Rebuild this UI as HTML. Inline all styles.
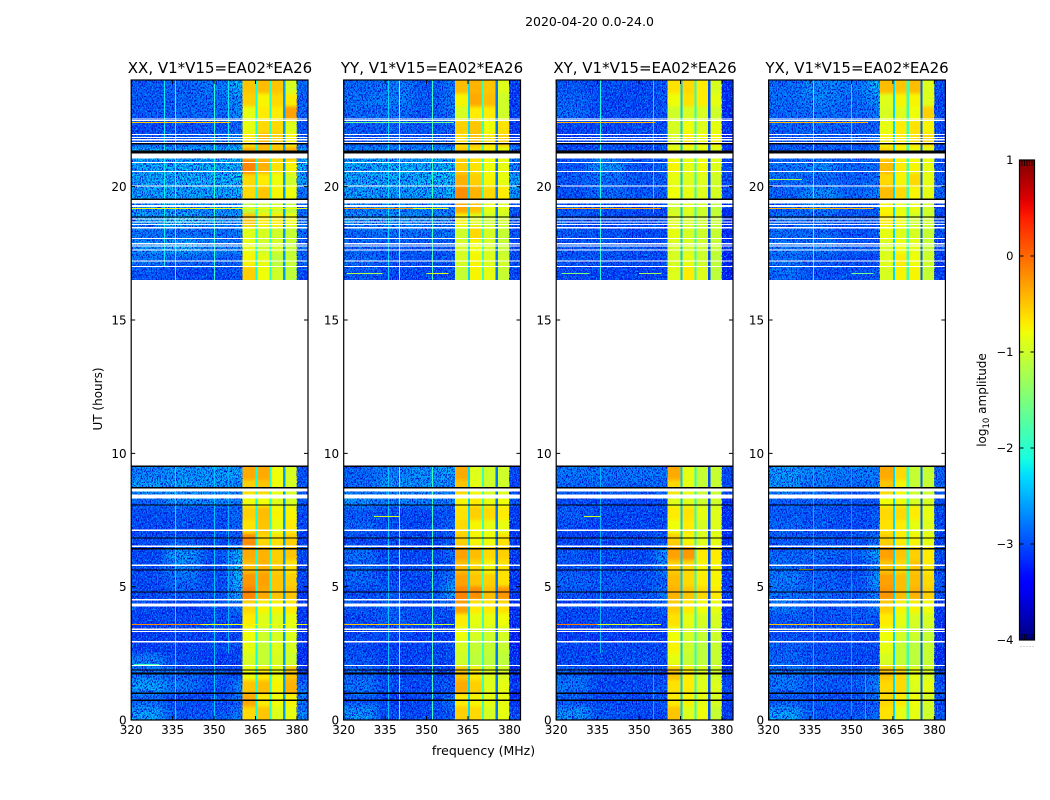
<!DOCTYPE html>
<html lang="en">
<head>
<meta charset="utf-8">
<title>2020-04-20 0.0-24.0</title>
<style>
html,body{margin:0;padding:0;background:#fff;width:1050px;height:800px;overflow:hidden}
svg{display:block}
text{font-family:"DejaVu Sans","Liberation Sans",sans-serif;fill:#000}
</style>
</head>
<body>
<svg id="chart" xmlns="http://www.w3.org/2000/svg" width="1050" height="800" viewBox="0 0 1050 800">
<defs>
<linearGradient id="jet-gradient" x1="0" y1="1" x2="0" y2="0"></linearGradient>
<filter id="speckle-dark" x="0" y="0" width="100%" height="100%" color-interpolation-filters="sRGB">
<feTurbulence type="fractalNoise" baseFrequency="0.8 0.55" numOctaves="2" seed="4"/>
<feColorMatrix type="matrix" values="0 0 0 0 0  0 0 0 0 0.06  0 0 0 0 0.82  6 0 0 0 -2.7"/>
</filter>
<filter id="speckle-light" x="0" y="0" width="100%" height="100%" color-interpolation-filters="sRGB">
<feTurbulence type="fractalNoise" baseFrequency="0.8 0.55" numOctaves="2" seed="11"/>
<feColorMatrix type="matrix" values="0 0 0 0 0  0 0 0 0 0.6  0 0 0 0 1  0 6 0 0 -3.2"/>
</filter>
<filter id="smooth-low" x="0" y="0" width="100%" height="100%" color-interpolation-filters="sRGB">
<feGaussianBlur in="SourceGraphic" stdDeviation="5 3" result="soft"/>
<feMerge><feMergeNode in="SourceGraphic"/><feMergeNode in="soft"/></feMerge>
</filter>
<filter id="smooth-band" x="0" y="0" width="100%" height="100%" color-interpolation-filters="sRGB">
<feGaussianBlur in="SourceGraphic" stdDeviation="0 1.5" result="soft"/>
<feMerge><feMergeNode in="SourceGraphic"/><feMergeNode in="soft"/></feMerge>
</filter>
</defs>
<text x="589.5" y="26" font-size="12.5" text-anchor="middle">2020-04-20 0.0-24.0</text>
<text x="220" y="73" font-size="15" text-anchor="middle">XX, V1*V15=EA02*EA26</text>
<text x="432" y="73" font-size="15" text-anchor="middle">YY, V1*V15=EA02*EA26</text>
<text x="645" y="73" font-size="15" text-anchor="middle">XY, V1*V15=EA02*EA26</text>
<text x="857" y="73" font-size="15" text-anchor="middle">YX, V1*V15=EA02*EA26</text>
<text x="483.5" y="755" font-size="12.5" text-anchor="middle">frequency (MHz)</text>
<text transform="translate(102,399) rotate(-90)" font-size="12" text-anchor="middle">UT (hours)</text>
<text transform="translate(986,400) rotate(-90)" font-size="12" text-anchor="middle">log<tspan font-size="8.5" dy="3">10</tspan><tspan dy="-3"> amplitude</tspan></text>
<g id="panels"></g>
<g id="colorbar"></g>
</svg>
<script>
// Categories: each row starts at this UT hour and lasts half an hour.
const rowStarts = [0,0.5,1,1.5,2,2.5,3,3.5,4,4.5,5,5.5,6,6.5,7,7.5,8,8.5,9,16.5,17,17.5,18,18.5,19,19.5,20,20.5,21,21.5,22,22.5,23,23.5];
const rowLength = 0.5;
// Frequency bins in MHz (lower, upper).
const freqBins = [[320,332],[332,345],[345,356],[356,360.2],[360.2,365],[365.8,370],[370.8,375],[375.8,380],[380,384]];
const notchBins = [[365,365.8],[370,370.8],[375,375.8]];

// log10 amplitude: one row per entry of rowStarts, one column per entry of freqBins.
const ampXX = [
[-2.4,-2.9,-2.9,-2.7,-0.6,-0.5,-0.9,-0.85,-2.6],
[-2.8,-3,-3,-2.8,-0.35,-0.7,-0.8,-0.75,-2.7],
[-2.4,-2.7,-3,-2.6,-0.5,-0.45,-0.75,-0.4,-2.7],
[-2.7,-2.8,-2.9,-3,-0.8,-0.7,-0.85,-0.5,-3],
[-2.6,-3,-3.1,-3,-0.95,-1.05,-0.95,-1,-3.2],
[-3.1,-3.05,-3,-3,-0.85,-1.05,-0.9,-0.95,-3.2],
[-3.1,-3.05,-3.05,-3,-0.8,-1,-0.95,-0.9,-3.1],
[-3.05,-3,-3,-2.95,-0.7,-0.9,-0.9,-0.85,-3.1],
[-3,-3.1,-3,-2.7,-0.6,-0.75,-0.75,-0.7,-3.1],
[-3,-2.9,-2.95,-2.3,-0.15,-0.35,-0.5,-0.5,-3.1],
[-3,-2.75,-3,-2.3,-0.25,-0.3,-0.5,-0.55,-3],
[-3,-2.6,-3,-2.2,-0.45,-0.4,-0.55,-0.65,-3],
[-3,-2.45,-2.95,-2.3,-0.35,-0.4,-0.55,-0.5,-3],
[-3,-2.9,-3,-2.9,-0.2,-0.6,-0.65,-0.55,-3.1],
[-3,-2.95,-3,-2.8,-0.65,-0.5,-0.85,-0.7,-3],
[-2.95,-2.9,-3,-2.8,-0.55,-0.45,-0.75,-0.75,-3],
[-2.8,-2.5,-2.55,-2.6,-0.8,-0.8,-0.9,-0.95,-2.9],
[-2.4,-2.4,-2.5,-2.6,-0.55,-0.5,-0.8,-0.95,-2.9],
[-2.6,-2.5,-2.45,-2.4,-0.35,-0.35,-0.8,-0.95,-2.9],
[-2.9,-3,-3,-2.9,-0.55,-0.8,-1,-1.1,-3],
[-2.7,-2.8,-2.8,-2.8,-0.75,-0.85,-1.1,-1.05,-2.8],
[-2.5,-2.3,-2.6,-2.6,-0.85,-1,-0.95,-1.05,-2.8],
[-2.7,-2.7,-2.75,-2.7,-0.9,-0.95,-1,-1.05,-2.8],
[-2.45,-2.2,-2.5,-2.5,-0.5,-0.7,-0.7,-0.8,-2.7],
[-2.5,-2.5,-2.5,-2.5,-1.1,-1,-1,-1.1,-2.8],
[-2.4,-2.4,-2.4,-2.3,-0.6,-0.5,-0.75,-0.8,-2.7],
[-2.35,-2.3,-2.3,-2.2,-0.6,-0.7,-0.8,-1,-2.4],
[-2.35,-2.3,-2.3,-2.2,-0.15,-0.4,-0.65,-0.75,-2.3],
[-2.35,-2.35,-2.35,-2.25,-0.4,-0.45,-0.5,-0.4,-2.4],
[-2.9,-2.85,-2.8,-2.6,-0.7,-0.45,-0.55,-0.75,-2.8],
[-3,-2.95,-2.9,-2.75,-0.85,-0.6,-0.6,-0.9,-2.9],
[-2.9,-2.8,-2.8,-2.55,-0.85,-0.7,-0.7,-0.3,-2.8],
[-2.9,-2.8,-2.75,-2.5,-0.55,-0.75,-0.6,-0.7,-2.8],
[-2.85,-2.8,-2.7,-2.3,-0.5,-0.45,-0.5,-0.95,-2.8]
];
const ampYY = [
[-2.5,-3,-3,-2.9,-0.55,-0.6,-0.95,-0.85,-3],
[-2.9,-3.1,-3,-2.7,-0.7,-0.75,-0.85,-0.85,-3.2],
[-2.7,-3,-3,-2.9,-0.35,-0.55,-0.9,-0.85,-3.1],
[-2.8,-3,-3,-3,-0.5,-0.7,-0.9,-0.95,-3.2],
[-2.9,-3.05,-3,-3,-1,-1.1,-1.1,-1.1,-3.2],
[-3,-3.05,-3.05,-3,-0.95,-1.05,-1.05,-1.05,-3.3],
[-3,-3,-3.1,-3.1,-0.8,-0.95,-1,-0.95,-3.3],
[-3,-2.85,-3,-3,-0.7,-0.85,-0.85,-0.8,-3.2],
[-2.9,-2.9,-3,-2.8,-0.3,-0.7,-0.7,-0.65,-3.2],
[-3,-2.9,-2.95,-2.4,-0.15,-0.2,-0.45,-0.25,-3.1],
[-2.8,-3,-3,-2.6,-0.3,-0.5,-0.55,-0.65,-3.2],
[-2.8,-3,-3,-2.9,-0.45,-0.6,-0.75,-0.65,-3.1],
[-2.75,-3,-3,-2.8,-0.3,-0.45,-0.6,-0.55,-3.1],
[-3,-3,-3.05,-2.9,-0.55,-0.75,-0.8,-0.65,-3.1],
[-2.8,-3,-3,-2.8,-0.6,-0.75,-0.85,-0.85,-3.1],
[-2.9,-3,-3,-2.9,-0.65,-0.55,-0.6,-0.7,-3.1],
[-2.5,-2.6,-2.6,-2.6,-0.75,-0.7,-0.85,-0.8,-2.9],
[-2.8,-2.5,-2.5,-2.6,-0.5,-0.85,-1,-1,-3],
[-2.8,-2.6,-2.5,-2.4,-0.35,-0.9,-1,-1,-3],
[-2.9,-3,-3,-2.9,-1.05,-0.75,-0.85,-1.05,-3],
[-2.75,-2.9,-2.9,-2.9,-0.95,-0.75,-0.9,-1,-3],
[-2.8,-2.9,-2.9,-2.9,-0.95,-0.8,-0.95,-1.05,-3],
[-2.8,-2.7,-2.7,-2.7,-1,-0.6,-0.95,-1.05,-2.9],
[-2.5,-2.5,-2.6,-2.6,-0.75,-0.9,-1,-1,-2.9],
[-2.6,-2.6,-2.6,-2.6,-0.35,-0.5,-0.85,-0.9,-2.9],
[-2.4,-2.45,-2.4,-2.3,-0.2,-0.4,-0.6,-0.7,-2.5],
[-2.35,-2.3,-2.3,-2.2,-0.4,-0.55,-0.75,-0.85,-2.4],
[-2.35,-2.3,-2.3,-2.25,-0.55,-0.65,-0.8,-0.85,-2.6],
[-2.5,-2.5,-2.5,-2.4,-0.55,-0.65,-0.75,-0.85,-2.6],
[-2.95,-2.9,-2.9,-2.8,-0.65,-0.5,-0.65,-0.55,-3.1],
[-2.9,-2.85,-2.9,-2.8,-0.55,-0.5,-0.8,-0.65,-3.1],
[-2.8,-2.75,-2.9,-2.7,-0.95,-0.7,-0.7,-1,-3.1],
[-2.7,-2.65,-2.9,-2.7,-0.75,-0.35,-0.45,-1,-3.1],
[-2.8,-2.65,-2.9,-2.7,-0.45,-0.4,-0.5,-0.9,-3.1]
];
const ampXY = [
[-2.5,-2.9,-3,-3,-0.5,-0.9,-0.8,-1.05,-3.1],
[-2.9,-3,-3,-2.9,-0.7,-0.75,-0.85,-0.95,-3.1],
[-2.7,-3,-3,-2.9,-0.65,-0.7,-0.9,-0.9,-3],
[-2.8,-3,-3,-3,-0.5,-0.7,-0.9,-1,-3.1],
[-3,-3,-2.95,-3,-0.85,-1.05,-1.1,-1.05,-3.3],
[-3,-3,-3,-3,-0.75,-1,-1.1,-1.05,-3.3],
[-3.1,-3.1,-3.1,-3.1,-0.8,-0.95,-1.05,-1,-3.3],
[-3,-3,-3,-3,-0.65,-0.85,-0.95,-0.95,-3.2],
[-3,-3,-3,-2.9,-0.55,-0.7,-0.8,-0.85,-3.2],
[-2.9,-2.95,-2.95,-2.7,-0.4,-0.5,-0.6,-0.7,-3.1],
[-2.8,-2.9,-2.95,-2.8,-0.45,-0.6,-0.7,-0.75,-3.1],
[-2.9,-3,-3,-2.6,-0.55,-0.6,-0.75,-0.75,-3.1],
[-2.9,-3,-3,-2.5,-0.3,-0.25,-0.7,-0.7,-3.1],
[-3.05,-3,-3,-2.9,-0.55,-0.75,-0.9,-0.85,-3.2],
[-3,-3.05,-3,-3,-0.8,-0.7,-0.95,-0.9,-3.2],
[-2.85,-3,-3,-3,-0.7,-0.65,-0.85,-0.9,-3.2],
[-3,-3,-3,-3,-0.9,-0.9,-1,-1,-3.2],
[-2.8,-2.8,-2.8,-2.8,-0.6,-0.85,-1.05,-1.05,-3],
[-2.7,-2.7,-2.7,-2.7,-0.35,-0.85,-1.05,-1.05,-3],
[-3,-3.05,-3.05,-3,-0.9,-0.7,-0.9,-1.1,-3.3],
[-2.9,-2.95,-3,-3,-0.95,-0.85,-1,-1.1,-3.3],
[-2.9,-2.85,-2.9,-2.95,-0.95,-0.95,-1,-1.05,-3.2],
[-2.9,-2.95,-3,-3,-0.85,-0.95,-1,-1.05,-3.2],
[-2.9,-3,-3,-3,-0.9,-0.95,-1,-1.05,-3.2],
[-2.9,-2.95,-2.95,-3,-1,-0.9,-1,-1.1,-3.2],
[-2.95,-2.75,-2.9,-2.85,-0.8,-0.85,-0.9,-0.95,-3],
[-2.9,-2.75,-2.9,-2.85,-0.85,-0.9,-0.9,-1,-3],
[-2.9,-2.5,-2.9,-2.85,-0.75,-0.85,-0.8,-0.9,-3],
[-3,-2.9,-3,-2.95,-0.85,-0.85,-0.85,-0.9,-3.1],
[-3.05,-3,-3,-3,-0.95,-0.7,-0.8,-0.75,-3.2],
[-3,-3,-3,-3,-0.95,-0.8,-0.9,-0.85,-3.2],
[-2.75,-3,-3,-2.9,-1,-0.95,-0.95,-1,-3.2],
[-2.8,-3,-3,-2.9,-0.8,-0.65,-0.7,-0.85,-3.2],
[-2.9,-3,-3,-2.9,-0.65,-0.6,-0.7,-0.95,-3.2]
];
const ampYX = [
[-2.4,-2.9,-2.9,-2.8,-0.65,-0.85,-0.85,-1,-2.9],
[-2.9,-2.9,-3,-2.8,-0.6,-0.7,-0.8,-0.95,-3],
[-2.7,-2.9,-2.9,-2.6,-0.6,-0.6,-0.9,-0.85,-2.9],
[-2.7,-2.8,-2.9,-2.7,-0.5,-0.6,-0.85,-0.95,-3],
[-2.8,-2.95,-3,-3,-0.95,-1.05,-1.1,-1.05,-3.2],
[-2.85,-2.95,-3,-3,-0.85,-1.05,-1.1,-1.05,-3.2],
[-2.95,-3,-3,-3,-0.8,-0.95,-1,-1.05,-3.2],
[-2.9,-2.95,-2.9,-2.95,-0.7,-0.85,-0.95,-0.95,-3.1],
[-2.7,-2.9,-2.9,-2.7,-0.55,-0.75,-0.75,-0.8,-3.1],
[-2.7,-2.8,-2.9,-2.6,-0.25,-0.45,-0.4,-0.55,-2.9],
[-2.65,-2.85,-2.95,-2.5,-0.3,-0.45,-0.45,-0.6,-2.9],
[-2.75,-2.9,-3,-2.6,-0.5,-0.6,-0.5,-0.7,-3],
[-2.8,-2.75,-2.85,-2.4,-0.3,-0.5,-0.55,-0.7,-3],
[-2.9,-2.9,-2.95,-2.7,-0.55,-0.7,-0.75,-0.85,-3.1],
[-2.8,-2.9,-3,-2.9,-0.65,-0.7,-0.85,-0.9,-3],
[-2.85,-2.9,-3,-2.9,-0.6,-0.6,-0.7,-0.85,-3],
[-2.85,-2.8,-2.9,-2.9,-0.8,-0.8,-0.95,-0.95,-3],
[-2.5,-2.7,-2.8,-2.7,-0.5,-0.75,-1.05,-1.05,-2.8],
[-2.45,-2.6,-2.65,-2.65,-0.35,-0.6,-1.05,-1.05,-2.8],
[-2.75,-2.95,-2.95,-2.9,-0.95,-0.75,-0.75,-1.05,-3.1],
[-2.75,-2.9,-3,-2.95,-0.9,-0.7,-0.8,-1,-3.1],
[-2.7,-2.65,-2.85,-2.9,-0.95,-0.8,-0.85,-1.05,-3],
[-2.75,-2.75,-2.95,-2.9,-0.85,-0.9,-0.95,-1.05,-3],
[-2.75,-2.8,-2.9,-2.9,-0.7,-0.8,-1,-1,-3],
[-2.85,-2.6,-2.85,-2.85,-0.75,-0.85,-0.85,-1,-3],
[-2.8,-2.55,-2.8,-2.6,-0.45,-0.6,-0.75,-0.85,-2.8],
[-2.75,-2.8,-2.85,-2.75,-0.6,-0.75,-0.6,-0.85,-2.9],
[-2.7,-2.55,-2.8,-2.7,-0.45,-0.7,-0.75,-0.85,-2.9],
[-2.85,-2.85,-2.9,-2.8,-0.6,-0.75,-0.8,-0.85,-3],
[-2.9,-2.9,-2.9,-2.8,-0.75,-0.7,-0.65,-0.6,-3],
[-2.8,-2.8,-2.85,-2.8,-0.85,-0.7,-0.65,-0.75,-3],
[-2.8,-2.75,-2.8,-2.7,-0.95,-0.9,-0.8,-0.55,-3],
[-2.75,-2.6,-2.75,-2.5,-0.9,-0.75,-0.75,-0.9,-3],
[-2.75,-2.55,-2.7,-2.3,-0.45,-0.5,-0.45,-0.9,-3]
];
// Notch channel amplitudes (one per notchBins entry), by polarisation.
const notchXX = [-2.1,-2.0,-2.6];
const notchYY = [-2.3,-1.9,-2.8];
const notchXY = [-2.4,-2.0,-3.0];
const notchYX = [-2.3,-1.9,-2.9];
// Narrow-band interference: frequency (MHz), from hour, to hour, log10 amplitude.
const channelLinesXX = [[332,17,24,-2.2],[336,16.5,24,-2.1],[350,16.5,24,-2.0],[355,21.5,24,-2.2],[336,0,9.5,-2.3],[350,0,9.5,-2.4],[355,2.5,9.5,-2.5]];
const channelLinesYY = [[340,0,9.5,-0.55],[340,16.5,24,-0.6],[352,0,9.5,-1.9],[352,16.5,24,-1.9],[336,0,9.5,-2.4],[336,16.5,24,-2.3]];
const channelLinesXY = [[336,16.5,24,-2.1],[355,19,24,-2.3],[336,2.5,9.5,-2.5],[355,0,2,-2.5]];
const channelLinesYX = [[336,16.5,24,-2.1],[350,21,24,-2.3],[336,0,9.5,-2.5],[350,0,9.5,-2.6],[355,0,2,-2.5]];
// Horizontal interference: hour, from MHz, to MHz, log10 amplitude.
const timeLinesXX = [[22.42,320,356,-0.5],[19.18,320,384,-0.8],[3.58,320,345,-0.2],[3.58,345,384,-0.8],[2.1,321,330,-1.9]];
const timeLinesYY = [[22.42,320,360,-1.6],[19.18,320,345,-0.3],[19.18,345,358,-0.8],[3.58,320,345,-0.5],[3.58,345,360,-1],[16.75,321,334,-1.2],[16.75,350,358,-0.9],[7.62,331,340,-1.0]];
const timeLinesXY = [[22.42,320,356,-0.4],[19.18,320,358,-0.3],[3.58,320,335,-0.1],[3.58,335,358,-0.9],[16.75,322,332,-1.5],[16.75,350,358,-1.3],[7.62,330,336,-1.0]];
const timeLinesYX = [[22.42,320,356,-0.4],[19.18,320,358,-0.4],[3.58,320,358,-0.5],[20.26,320,332,-1.2],[16.75,350,358,-1.6],[5.65,331,336,-0.7]];
// Flagged (blank) and dropped (black) time ranges in hours.
const flaggedRanges = [[2.02,2.06],[2.9,2.96],[3.3,3.34],[3.38,3.44],[4.26,4.36],[4.48,4.54],[5.77,5.83],[6.48,6.54],[7.08,7.14],[8.3,8.46],[8.56,8.68],[16.98,17.02],[17.2,17.24],[17.6,17.64],[17.76,17.8],[17.84,17.88],[18.04,18.08],[18.44,18.48],[18.56,18.6],[18.66,18.7],[18.76,18.8],[19.24,19.32],[19.36,19.5],[20.01,20.05],[20.55,20.59],[20.88,20.92],[21.05,21.24],[21.64,21.68],[21.74,21.78],[21.83,21.87],[21.93,21.97],[22.46,22.5],[22.52,22.56]];
const droppedRanges = [[0.72,0.77],[0.97,1.04],[1.7,1.78],[1.86,1.9],[4.78,4.82],[5.6,5.64],[6.4,6.45],[6.8,6.85],[8.04,8.08],[8.68,8.74],[9.49,9.55],[18.85,18.89],[19.5,19.55],[21.24,21.36],[21.58,21.63]];
// Axis tick values and labels.
const xTickValues = [320,335,350,365,380];
const xTickLabels = ['320','335','350','365','380'];
const yTickValues = [0,5,10,15,20];
const yTickLabels = ['0','5','10','15','20'];
const colorbarTicks = [1,0,-1,-2,-3,-4];
const colorbarLabels = ['1','0','\u22121','\u22122','\u22123','\u22124'];
const polarisations = ['xx','yy','xy','yx'];

const SVG_NS = 'http://www.w3.org/2000/svg';
const AMP_MIN = -4, AMP_MAX = 1;
const FREQ_MIN = 320, FREQ_MAX = 384, HOUR_MIN = 0, HOUR_MAX = 24;
const PLOT_TOP = 80, PLOT_BOTTOM = 720, PLOT_WIDTH = 176.8;
const panelLefts = [131.2, 343.7, 556.2, 768.6];
const panelAmps = [ampXX, ampYY, ampXY, ampYX];
const panelNotches = [notchXX, notchYY, notchXY, notchYX];
const panelChannelLines = [channelLinesXX, channelLinesYY, channelLinesXY, channelLinesYX];
const panelTimeLines = [timeLinesXX, timeLinesYY, timeLinesXY, timeLinesYX];
const dataSpans = [[0, 9.5], [16.5, 24]];
const BAND_START = 360.2, BAND_END = 380;

function make(tag, attrs, parent) {
  const el = document.createElementNS(SVG_NS, tag);
  for (const k in attrs) el.setAttribute(k, attrs[k]);
  parent.appendChild(el);
  return el;
}
function clamp01(v) { return Math.max(0, Math.min(1, v)); }
function jet(v) {
  const t = clamp01((v - AMP_MIN) / (AMP_MAX - AMP_MIN));
  const r = t < 0.35 ? 0 : t < 0.66 ? (t - 0.35) / 0.31 : t < 0.89 ? 1 : 1 - (t - 0.89) / 0.11 * 0.5;
  const g = t < 0.125 ? 0 : t < 0.375 ? (t - 0.125) / 0.25 : t < 0.64 ? 1 : t < 0.91 ? 1 - (t - 0.64) / 0.27 : 0;
  const b = t < 0.11 ? 0.5 + t / 0.11 * 0.5 : t < 0.34 ? 1 : t < 0.65 ? 1 - (t - 0.34) / 0.31 : 0;
  return 'rgb(' + Math.round(r * 255) + ',' + Math.round(g * 255) + ',' + Math.round(b * 255) + ')';
}
function xScale(left, mhz) { return left + (mhz - FREQ_MIN) / (FREQ_MAX - FREQ_MIN) * PLOT_WIDTH; }
function yScale(hour) { return PLOT_BOTTOM - (hour - HOUR_MIN) / (HOUR_MAX - HOUR_MIN) * (PLOT_BOTTOM - PLOT_TOP); }

function cellRect(group, left, f0, f1, h0, h1, fill) {
  const x0 = xScale(left, f0), x1 = xScale(left, f1);
  const y0 = yScale(h1), y1 = yScale(h0);
  return make('rect', { x: x0, y: y0, width: x1 - x0, height: y1 - y0, fill: fill, 'shape-rendering': 'crispEdges' }, group);
}

const chartDefs = document.querySelector('#chart defs');
const panelsRoot = document.getElementById('panels');
polarisations.forEach(function (pol, p) {
  const left = panelLefts[p];
  const amps = panelAmps[p];
  const panel = make('g', {}, panelsRoot);
  
  

  // Clip the smoothed heatmap to the observed time spans and plot frame.
  const clip = make('clipPath', { id: 'clip-' + pol }, chartDefs);
  dataSpans.forEach(function (span) {
    cellRect(clip, left, FREQ_MIN, FREQ_MAX, span[0], span[1], '#000');
  });
  const heat = make('g', { 'clip-path': 'url(#clip-' + pol + ')' }, panel);
  
  
  const lowLayer = make('g', { filter: 'url(#smooth-low)' }, heat);
  
  
  const bandLayer = make('g', { filter: 'url(#smooth-band)' }, heat);
  
  

  // Heatmap cells
  rowStarts.forEach(function (h, r) {
    freqBins.forEach(function (bin, c) {
      const target = (bin[0] >= BAND_START && bin[1] <= BAND_END) ? bandLayer : lowLayer;
      const cell = cellRect(target, left, bin[0], bin[1], h, h + rowLength, jet(amps[r][c]));
      
      
    });
    notchBins.forEach(function (bin, c) {
      const notch = cellRect(bandLayer, left, bin[0], bin[1], h, h + rowLength, jet(panelNotches[p][c]));
      
      
    });
  });

  // Speckle texture on the faint part of the band
  dataSpans.forEach(function (span) {
    [[FREQ_MIN, BAND_START], [BAND_END, FREQ_MAX]].forEach(function (fr) {
      ['speckle-dark', 'speckle-light'].forEach(function (filterId) {
        const tex = cellRect(panel, left, fr[0], fr[1], span[0], span[1], '#000');
        tex.setAttribute('filter', 'url(#' + filterId + ')');
        
        
      });
    });
  });

  panelChannelLines[p].forEach(function (l) {
    const x = xScale(left, l[0]);
    const mark = make('rect', { x: Math.round(x), y: yScale(l[2]), width: 1, height: yScale(l[1]) - yScale(l[2]), fill: jet(l[3]), 'shape-rendering': 'crispEdges' }, panel);
    
    
  });
  panelTimeLines[p].forEach(function (l) {
    const mark = make('rect', { x: xScale(left, l[1]), y: Math.floor(yScale(l[0])), width: xScale(left, l[2]) - xScale(left, l[1]), height: 1, fill: jet(l[3]), 'shape-rendering': 'crispEdges' }, panel);
    
    
  });

  // Flagged and dropped time ranges
  flaggedRanges.forEach(function (g) {
    const gap = cellRect(panel, left, FREQ_MIN, FREQ_MAX, g[0], g[1], '#fff');
    
    
  });
  droppedRanges.forEach(function (g) {
    const gap = cellRect(panel, left, FREQ_MIN, FREQ_MAX, g[0], g[1], '#000');
    
    
  });

  // Frame
  const frame = make('rect', { x: left, y: PLOT_TOP, width: PLOT_WIDTH, height: PLOT_BOTTOM - PLOT_TOP, fill: 'none', stroke: '#000', 'stroke-width': 1.2 }, panel);
  
  

  // X ticks and labels
  xTickValues.forEach(function (v, i) {
    const x = xScale(left, v);
    const tick = make('path', { d: 'M' + x + ' ' + PLOT_BOTTOM + 'v-4M' + x + ' ' + PLOT_TOP + 'v4', stroke: '#000', 'stroke-width': 1, fill: 'none' }, panel);
    
    
    const label = make('text', { x: x, y: 734, 'font-size': 12, 'text-anchor': 'middle' }, panel);
    label.textContent = xTickLabels[i];
    
    
  });

  // Y ticks and labels
  yTickValues.forEach(function (v, i) {
    const y = yScale(v);
    const tick = make('path', { d: 'M' + left + ' ' + y + 'h4M' + (left + PLOT_WIDTH) + ' ' + y + 'h-4', stroke: '#000', 'stroke-width': 1, fill: 'none' }, panel);
    
    
    const label = make('text', { x: left - 4.5, y: y + 4.5, 'font-size': 12, 'text-anchor': 'end' }, panel);
    label.textContent = yTickLabels[i];
    
    
  });
});

// Colorbar
const CB_LEFT = 1019.5, CB_WIDTH = 15, CB_TOP = 160, CB_BOTTOM = 640;
function cbScale(v) { return CB_BOTTOM - (v - AMP_MIN) / (AMP_MAX - AMP_MIN) * (CB_BOTTOM - CB_TOP); }
const gradient = document.getElementById('jet-gradient');
for (let i = 0; i <= 50; i++) {
  make('stop', { offset: (i * 2) + '%', 'stop-color': jet(AMP_MIN + (AMP_MAX - AMP_MIN) * i / 50) }, gradient);
}
const cbRoot = document.getElementById('colorbar');
const cbRamp = make('rect', { x: CB_LEFT, y: CB_TOP, width: CB_WIDTH, height: CB_BOTTOM - CB_TOP, fill: 'url(#jet-gradient)', stroke: '#000', 'stroke-width': 1.2 }, cbRoot);


colorbarTicks.forEach(function (v, i) {
  const y = cbScale(v);
  if (v !== AMP_MIN && v !== AMP_MAX) {
    const tick = make('path', { d: 'M' + CB_LEFT + ' ' + y + 'h4M' + (CB_LEFT + CB_WIDTH) + ' ' + y + 'h-4', stroke: '#000', 'stroke-width': 1, fill: 'none' }, cbRoot);
    
    
  }
  const label = make('text', { x: 1013.5, y: y + 4, 'font-size': 11.5, 'text-anchor': 'end' }, cbRoot);
  label.textContent = colorbarLabels[i];
  
  
});
[1, 2, 3, 4, 5].forEach(function (n) {
  const x = CB_LEFT + n * CB_WIDTH / 6;
  const minor = make('path', { d: 'M' + x + ' ' + CB_TOP + 'v6M' + x + ' ' + CB_BOTTOM + 'v-6', stroke: '#000', 'stroke-width': 0.8, fill: 'none' }, cbRoot);
  
  
  const dot = make('rect', { x: CB_LEFT - 2 + n * 3, y: 646, width: 1, height: 1, fill: '#aaa' }, cbRoot);
  
  
});
</script>
</body>
</html>
